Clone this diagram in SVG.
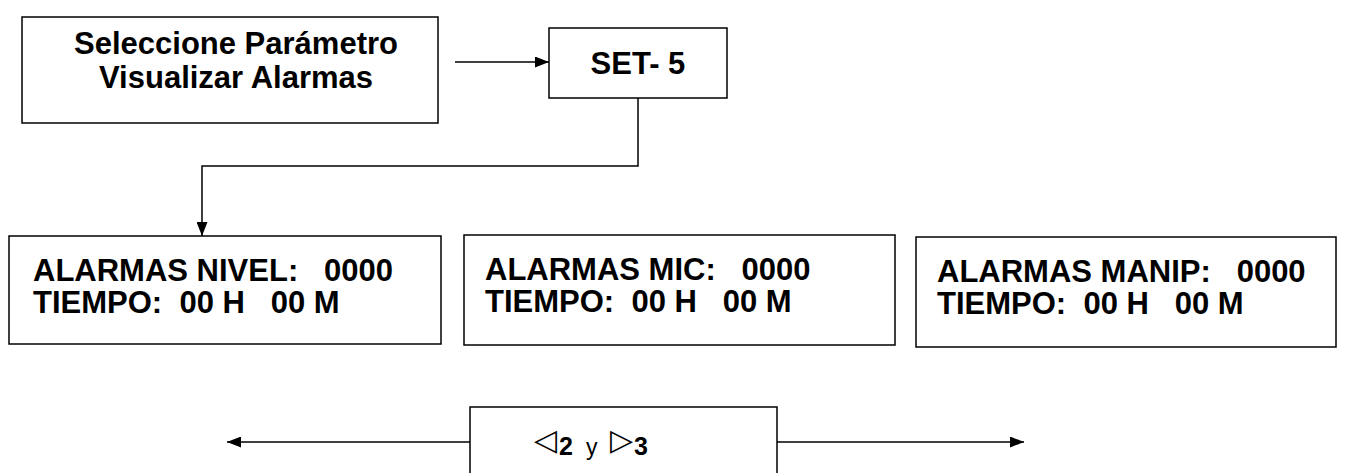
<svg xmlns="http://www.w3.org/2000/svg" width="1348" height="473" viewBox="0 0 1348 473">
<defs>
<marker id="ah" markerWidth="14" markerHeight="11" refX="14" refY="5.5" orient="auto" markerUnits="userSpaceOnUse">
<path d="M0,0 L14,5.5 L0,11 Z" fill="#000"/>
</marker>
<style>
.box{fill:#fff;stroke:#000;stroke-width:1.5}
.t{font-family:"Liberation Sans",Arial,sans-serif;font-weight:bold;font-size:31px;fill:#000}
.c{fill:none;stroke:#000;stroke-width:1.5}
.sym{font-family:"DejaVu Sans",sans-serif;font-size:30px;fill:#000}
.d{font-family:"Liberation Sans",Arial,sans-serif;font-weight:bold;font-size:25px;fill:#000}
.y{font-family:"Liberation Sans",Arial,sans-serif;font-size:23px;fill:#000}
</style>
</defs>
<g id="connectors">
<path class="c" d="M455,62 H549" marker-end="url(#ah)"/>
<path class="c" d="M638,98 V166 H202 V236" marker-end="url(#ah)"/>
<path class="c" d="M470,442 H227" marker-end="url(#ah)"/>
<path class="c" d="M777,442 H1024" marker-end="url(#ah)"/>
</g>
<g id="n1">
<rect class="box" x="22" y="17" width="416" height="106"/>
<text class="t" x="236" y="54" text-anchor="middle">Seleccione Parámetro</text>
<text class="t" x="236" y="88" text-anchor="middle">Visualizar Alarmas</text>
</g>
<g id="n2">
<rect class="box" x="549" y="28" width="178" height="70"/>
<text class="t" x="638" y="74" text-anchor="middle">SET- 5</text>
</g>
<g id="n3">
<rect class="box" x="9" y="236" width="432" height="108"/>
<text class="t" x="33" y="281" xml:space="preserve">ALARMAS NIVEL:   0000</text>
<text class="t" x="33" y="313" xml:space="preserve">TIEMPO:  00 H   00 M</text>
</g>
<g id="n4">
<rect class="box" x="464" y="235" width="431" height="110"/>
<text class="t" x="485" y="280" xml:space="preserve">ALARMAS MIC:   0000</text>
<text class="t" x="485" y="312" xml:space="preserve">TIEMPO:  00 H   00 M</text>
</g>
<g id="n5">
<rect class="box" x="916" y="237" width="420" height="110"/>
<text class="t" x="937" y="282" xml:space="preserve">ALARMAS MANIP:   0000</text>
<text class="t" x="937" y="314" xml:space="preserve">TIEMPO:  00 H   00 M</text>
</g>
<g id="n6">
<rect class="box" x="470" y="407" width="307" height="80"/>
<text class="sym" x="534" y="450">◁</text>
<text class="d" x="559" y="455">2</text>
<text class="y" x="586" y="455">y</text>
<text class="sym" x="610" y="450">▷</text>
<text class="d" x="634" y="455">3</text>
</g>
</svg>
